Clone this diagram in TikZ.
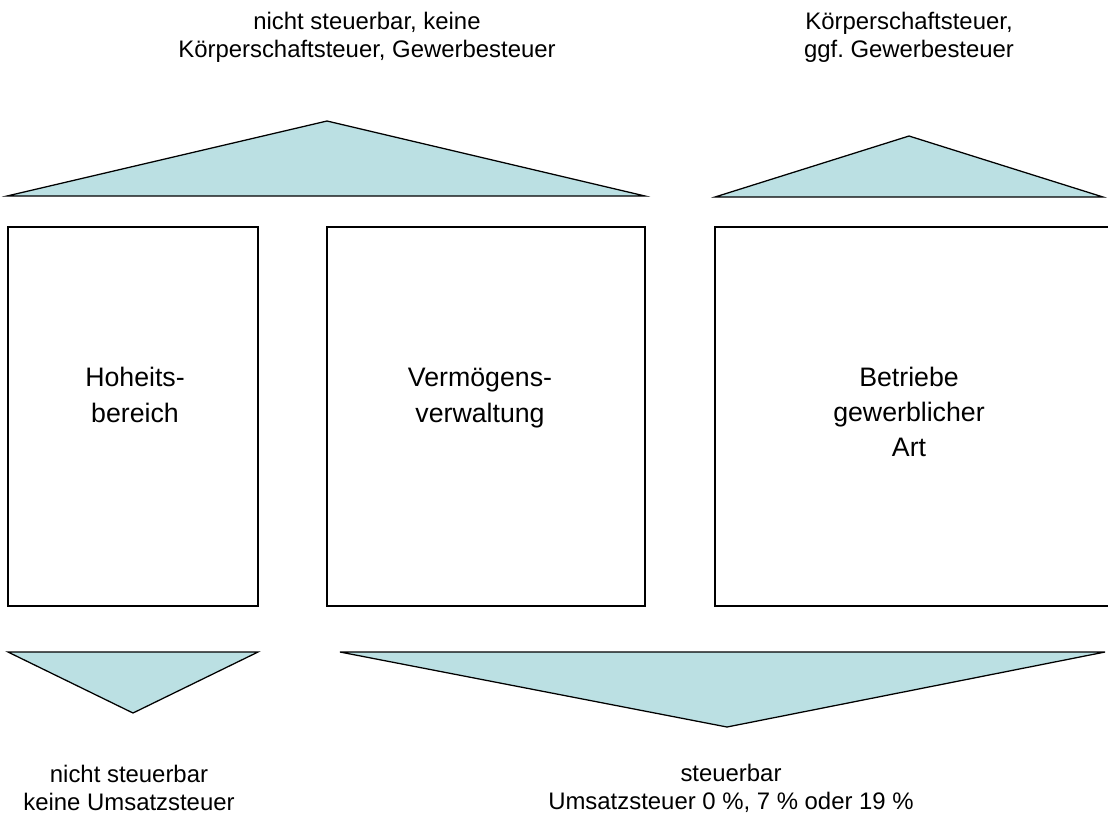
\documentclass[tikz,border=0pt]{standalone}
\usepackage{fontspec}
\setmainfont{Liberation Sans}
\frenchspacing
\definecolor{keil}{RGB}{187,224,227}
\begin{document}
\begin{tikzpicture}[x=0.025cm,y=-0.025cm,
        keilform/.style={draw,fill=keil,line width=0.9pt,line join=miter},
        bereich/.style={draw,line width=0.9pt},
        steuertext/.style={align=center,font=\fontsize{17}{20}\selectfont},
        boxtext/.style={align=center,font=\fontsize{19}{25}\selectfont}]
        \useasboundingbox (0,0) rectangle (1108,825);
        % Keile oben
        \draw [keilform] (7,196) -- (327,121) -- (645,196) -- cycle;
        \draw [keilform] (715,197) -- (909,136) -- (1103,197) -- cycle;
        % die drei Bereiche
        \draw [bereich] (8,227) rectangle (258,606);
        \draw [bereich] (327,227) rectangle (645,606);
        \draw [bereich] (1112,227) -- (715,227) -- (715,606) -- (1112,606);
        % Keile unten
        \draw [keilform] (8,652) -- (258,652) -- (133,713) -- cycle;
        \draw [keilform] (340,652) -- (1105,652) -- (727,727) -- cycle;
        \node[boxtext] (hoheit) at (135,395) {Hoheits-\\bereich};
        \node[boxtext] (vermoegen) at (480,398) {Vermögens-\\verwaltung};
        \node[boxtext] (bgA) at (909,412) {Betriebe\\gewerblicher\\Art};
        \node[steuertext] (kstkeine) at (367,37) {nicht steuerbar, keine\\Körperschaftsteuer, Gewerbesteuer};
        \node[steuertext] (kstja) at (909,37) {Körperschaftsteuer,\\ggf. Gewerbesteuer};
        \node[steuertext] (ustkeine) at (129,788) {nicht steuerbar\\keine Umsatzsteuer};
        \node[steuertext] (ustja) at (731,788) {steuerbar\\Umsatzsteuer 0~\%, 7~\% oder 19~\%};
    \end{tikzpicture}
\end{document}
